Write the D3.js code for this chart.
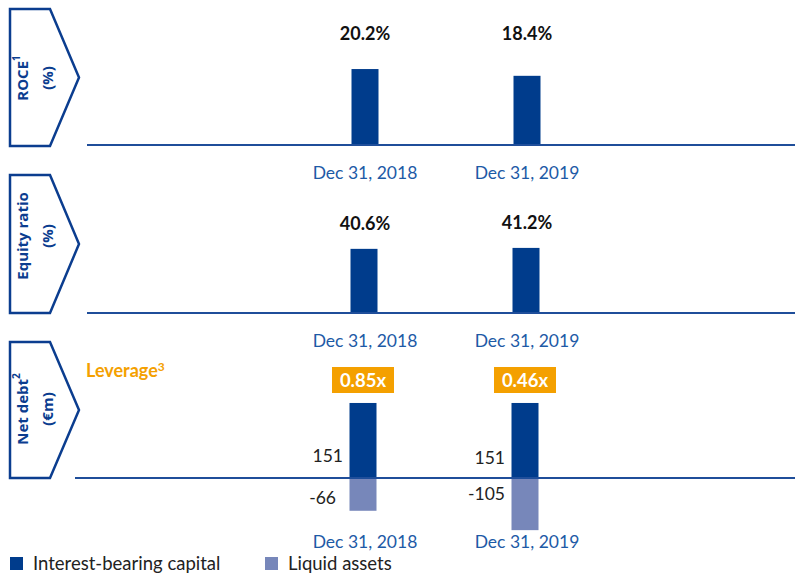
<!DOCTYPE html>
<html><head><meta charset="utf-8">
<script src="https://cdn.jsdelivr.net/npm/d3@7"></script>
<style>html,body{margin:0;padding:0;background:#fff}svg{display:block}</style>
</head><body>
<svg id="chart" width="795" height="574"></svg>
<script>
const categories = ["Dec 31, 2018", "Dec 31, 2019"];
const roce = [20.2, 18.4];
const equityRatio = [40.6, 41.2];
const interestBearing = [151, 151];
const liquidAssets = [-66, -105];
const leverage = ["0.85x", "0.46x"];
const panelTitles = [[["ROCE", "1"], ["(%)", ""]], [["Equity ratio", ""], ["(%)", ""]], [["Net debt", "2"], ["(\u20acm)", ""]]];
const legendLabels = ["Interest-bearing capital", "Liquid assets"];

const DARK = "#003c8c", LIGHT = "#7787ba", CAT = "#1d5aa6", ORANGE = "#f4a000";
const FONT = "Lato, 'Open Sans', sans-serif";
const svg = d3.select("#chart");

const x = d3.scalePoint().domain(categories).range([365, 527]);
const barW = 27;

const y1 = d3.scaleLinear().domain([0, 25]).range([145, 51]);
const y2 = d3.scaleLinear().domain([0, 50]).range([313, 234]);
const y3 = d3.scaleLinear().domain([-120, 160]).range([537.6, 398.5]);

// chevrons
const chev = [{top: 9, bot: 146, cy: 78}, {top: 175, bot: 313, cy: 236}, {top: 342, bot: 478, cy: 409}];
chev.forEach((c, i) => {
  const mid = (c.top + c.bot) / 2;
  svg.append("path")
    .attr("d", `M10,${c.top} L50,${c.top} L79,${mid} L50,${c.bot} L10,${c.bot} Z`)
    .attr("fill", "none").attr("stroke", "#0b3d8f").attr("stroke-width", 2.5);
  panelTitles[i].forEach((t, j) => {
    const tx = svg.append("text")
      .attr("transform", `translate(${j === 0 ? 22 : 47},${c.cy}) rotate(-90)`)
      .attr("text-anchor", "middle").attr("dominant-baseline", "central")
      .attr("font-family", "'Open Sans', sans-serif").attr("font-weight", "bold")
      .attr("font-size", 15).attr("fill", "#0b3d8f");
    tx.append("tspan").text(t[0]);
    if (t[1]) tx.append("tspan").attr("font-size", 10).attr("dy", -6).text(t[1]);
  });
});

function baseline(yy, x0) {
  svg.append("line").attr("x1", x0).attr("x2", 795).attr("y1", yy).attr("y2", yy)
    .attr("stroke", "#1f4e9a").attr("stroke-width", 2);
}
function catLabels(yy) {
  svg.append("g").selectAll("text").data(categories).join("text")
    .attr("x", d => x(d)).attr("y", yy).attr("text-anchor", "middle")
    .attr("dominant-baseline", "central")
    .attr("font-family", FONT).attr("font-size", 17.5).attr("fill", CAT).text(d => d);
}

// Panel 1: ROCE
svg.append("g").selectAll("rect").data(roce).join("rect")
  .attr("x", (d, i) => x(categories[i]) - barW / 2).attr("width", barW)
  .attr("y", d => y1(d)).attr("height", d => y1(0) - y1(d)).attr("fill", DARK);
baseline(y1(0), 87);
svg.append("g").selectAll("text").data(roce).join("text")
  .attr("x", (d, i) => x(categories[i])).attr("y", 33).attr("text-anchor", "middle")
  .attr("dominant-baseline", "central").attr("font-family", FONT).attr("font-weight", "bold")
  .attr("font-size", 18).attr("fill", "#111").text(d => d.toFixed(1) + "%");
catLabels(172);

// Panel 2: Equity ratio
svg.append("g").selectAll("rect").data(equityRatio).join("rect")
  .attr("x", (d, i) => x(categories[i]) - barW / 2 - 1).attr("width", barW)
  .attr("y", d => y2(d)).attr("height", d => y2(0) - y2(d)).attr("fill", DARK);
baseline(y2(0), 87);
svg.append("g").selectAll("text").data(equityRatio).join("text")
  .attr("x", (d, i) => x(categories[i])).attr("y", d => y2(d) - 26).attr("text-anchor", "middle")
  .attr("dominant-baseline", "central").attr("font-family", FONT).attr("font-weight", "bold")
  .attr("font-size", 18).attr("fill", "#111").text(d => d.toFixed(1) + "%");
catLabels(340);

// Panel 3: Net debt
svg.append("g").selectAll("rect").data(interestBearing).join("rect")
  .attr("x", (d, i) => x(categories[i]) - barW / 2 - 2).attr("width", barW)
  .attr("y", d => y3(d)).attr("height", d => y3(0) - y3(d)).attr("fill", DARK);
svg.append("g").selectAll("rect").data(liquidAssets).join("rect")
  .attr("x", (d, i) => x(categories[i]) - barW / 2 - 2).attr("width", barW)
  .attr("y", y3(0)).attr("height", d => y3(d) - y3(0)).attr("fill", LIGHT);
baseline(y3(0), 75);
svg.append("g").selectAll("text").data(interestBearing).join("text")
  .attr("x", (d, i) => x(categories[i]) - 22).attr("y", (d, i) => 455 + i * 2).attr("text-anchor", "end")
  .attr("dominant-baseline", "central").attr("font-family", FONT)
  .attr("font-size", 17.5).attr("fill", "#222").text(d => d);
svg.append("g").selectAll("text").data(liquidAssets).join("text")
  .attr("x", (d, i) => x(categories[i]) - 22 - (i === 0 ? 7 : 0)).attr("y", (d, i) => 497 - i * 4).attr("text-anchor", "end")
  .attr("dominant-baseline", "central").attr("font-family", FONT)
  .attr("font-size", 17.5).attr("fill", "#222").text(d => d);
const lev = svg.append("g").selectAll("g").data(leverage).join("g")
  .attr("transform", (d, i) => `translate(${x(categories[i]) - 2},380)`);
lev.append("rect").attr("x", -31).attr("y", -13).attr("width", 62).attr("height", 26).attr("fill", ORANGE);
lev.append("text").attr("text-anchor", "middle").attr("dominant-baseline", "central")
  .attr("font-family", FONT).attr("font-weight", "bold").attr("font-size", 18.5)
  .attr("fill", "#fff").text(d => d);
const levT = svg.append("text").attr("x", 86).attr("y", 377).attr("font-family", FONT)
  .attr("font-weight", "bold").attr("font-size", 18).attr("fill", ORANGE);
levT.append("tspan").text("Leverage");
levT.append("tspan").attr("font-size", 12).attr("dy", -6).text("3");
catLabels(541);

// Legend
const leg = svg.append("g").selectAll("g").data(legendLabels).join("g")
  .attr("transform", (d, i) => `translate(${i === 0 ? 10 : 265},557)`);
leg.append("rect").attr("width", 13).attr("height", 13).attr("fill", (d, i) => i === 0 ? DARK : LIGHT);
leg.append("text").attr("x", 23).attr("y", 13).attr("font-family", FONT)
  .attr("font-size", 18.5).attr("fill", "#222").text(d => d);
</script>
</body></html>
